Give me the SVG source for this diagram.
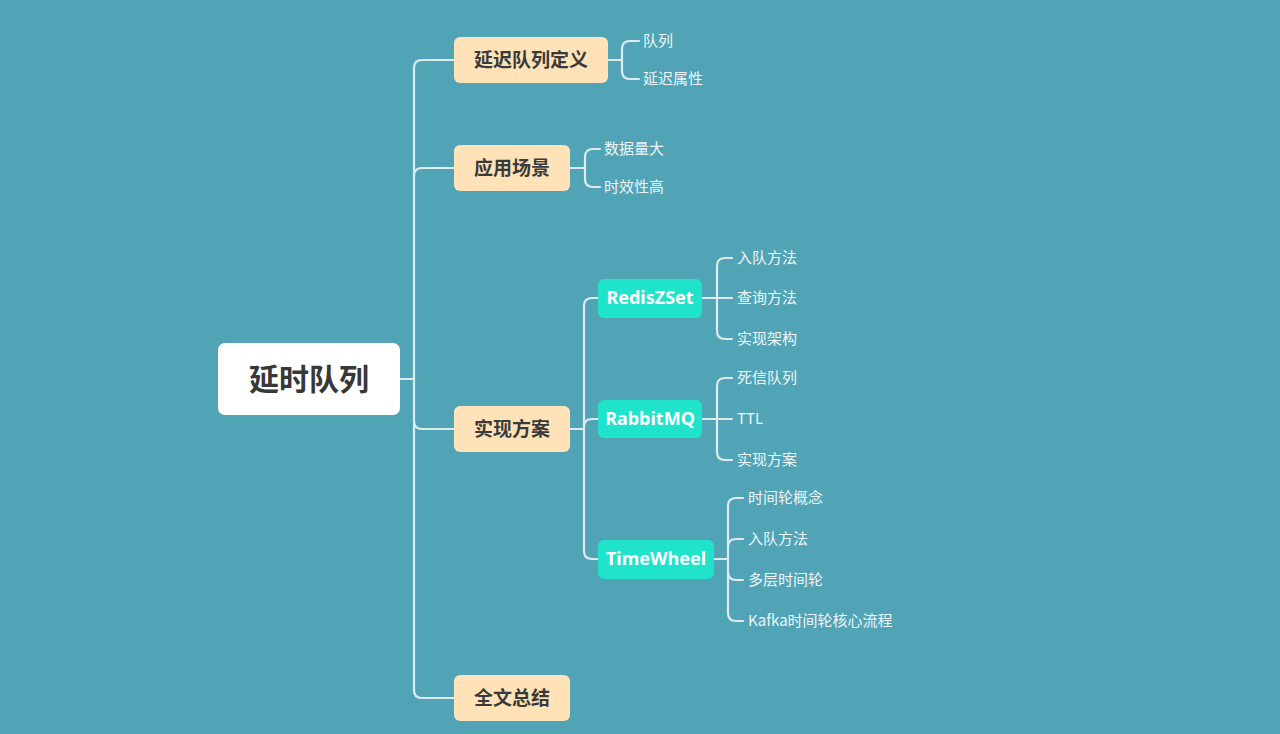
<svg xmlns="http://www.w3.org/2000/svg" width="1280" height="734" viewBox="0 0 1280 734">
<style>
.bg{fill:#51A4B6}
.root{fill:#FFFFFF}
.l1{fill:#FFE2B8}
.l2{fill:#1FE3CB}
.tr{font-family:"Noto Sans CJK SC","Noto Sans",sans-serif;font-size:30px;font-weight:bold;fill:#383838;text-anchor:middle}
.t1{font-family:"Noto Sans CJK SC","Noto Sans",sans-serif;font-size:19px;font-weight:bold;fill:#3A3A3A;text-anchor:middle}
.t2{font-family:"Noto Sans","Noto Sans CJK SC",sans-serif;font-size:18px;font-weight:bold;fill:#FFFFFF;text-anchor:middle}
.leaf{font-family:"Noto Sans CJK SC","Noto Sans",sans-serif;font-size:15px;fill:#EEF5F7}
.c{fill:none;stroke:#DDEBEF;stroke-width:2.2;stroke-linecap:round}
</style>
<rect class="bg" x="0" y="0" width="1280" height="734"/>
<g id="connectors">
<path class="c" d="M400 379 H414"/>
<path class="c" d="M454 60 H422 Q414 60 414 68 V690 Q414 698 422 698 H454"/>
<path class="c" d="M414 176 Q414 168 422 168 H454"/>
<path class="c" d="M414 421 Q414 429 422 429 H454"/>
<path class="c" d="M608 60 H622"/>
<path class="c" d="M639 41 H630 Q622 41 622 49 V71 Q622 79 630 79 H639"/>
<path class="c" d="M570 168 H585"/>
<path class="c" d="M600 149 H593 Q585 149 585 157 V179 Q585 187 593 187 H600"/>
<path class="c" d="M570 429 H584"/>
<path class="c" d="M598 298 H592 Q584 298 584 306 V551 Q584 559 592 559 H598"/>
<path class="c" d="M584 427 Q584 419 592 419 H598"/>
<path class="c" d="M702 298 H732"/>
<path class="c" d="M732 258 H725 Q717 258 717 266 V331 Q717 339 725 339 H732"/>
<path class="c" d="M702 419 H732"/>
<path class="c" d="M732 378 H725 Q717 378 717 386 V452 Q717 460 725 460 H732"/>
<path class="c" d="M714 559 H728"/>
<path class="c" d="M743 498 H736 Q728 498 728 506 V613 Q728 621 736 621 H743"/>
<path class="c" d="M728 547 Q728 539 736 539 H743"/>
<path class="c" d="M728 572 Q728 580 736 580 H743"/>
</g>
<g id="root"><rect class="root" x="218" y="343" width="182" height="72" rx="7"/><text class="tr" x="309" y="390">延时队列</text></g>
<g id="n-def"><rect class="l1" x="454" y="37" width="154" height="46" rx="6"/><text class="t1" x="531" y="67">延迟队列定义</text></g>
<g id="n-scene"><rect class="l1" x="454" y="145" width="116" height="46" rx="6"/><text class="t1" x="512" y="175">应用场景</text></g>
<g id="n-impl"><rect class="l1" x="454" y="406" width="116" height="46" rx="6"/><text class="t1" x="512" y="436">实现方案</text></g>
<g id="n-sum"><rect class="l1" x="454" y="675" width="116" height="46" rx="6"/><text class="t1" x="512" y="705">全文总结</text></g>
<g id="n-redis"><rect class="l2" x="598" y="279" width="104" height="39" rx="6"/><text class="t2" x="650" y="304">RedisZSet</text></g>
<g id="n-rabbit"><rect class="l2" x="598" y="400" width="104" height="38" rx="6"/><text class="t2" x="650" y="425">RabbitMQ</text></g>
<g id="n-tw"><rect class="l2" x="598" y="540" width="116" height="39" rx="6"/><text class="t2" x="656" y="565">TimeWheel</text></g>
<g id="leaves">
<text class="leaf" x="643" y="46">队列</text>
<text class="leaf" x="643" y="84">延迟属性</text>
<text class="leaf" x="604" y="154">数据量大</text>
<text class="leaf" x="604" y="192">时效性高</text>
<text class="leaf" x="737" y="263">入队方法</text>
<text class="leaf" x="737" y="303">查询方法</text>
<text class="leaf" x="737" y="344">实现架构</text>
<text class="leaf" x="737" y="383">死信队列</text>
<text class="leaf" x="737" y="424">TTL</text>
<text class="leaf" x="737" y="465">实现方案</text>
<text class="leaf" x="748" y="503">时间轮概念</text>
<text class="leaf" x="748" y="544">入队方法</text>
<text class="leaf" x="748" y="585">多层时间轮</text>
<text class="leaf" x="748" y="626">Kafka时间轮核心流程</text>
</g>
</svg>
